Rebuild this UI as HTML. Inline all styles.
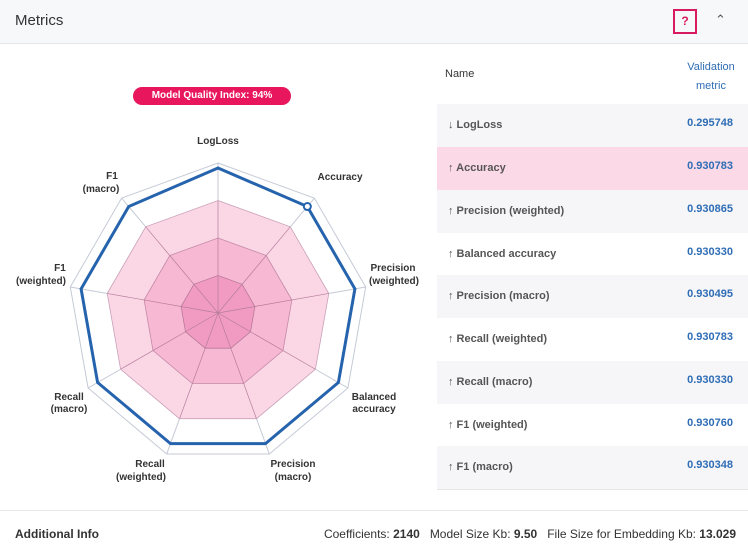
<!DOCTYPE html>
<html><head><style>
body{margin:0;width:748px;height:557px;overflow:hidden;background:#fff;font-family:"Liberation Sans",sans-serif;position:relative}
.hdr{position:absolute;left:0;top:0;width:748px;height:43px;background:#f7f8fa;border-bottom:1px solid #e4e6ea}
.hdr .t{position:absolute;left:15px;top:12px;font-size:15px;color:#333}
.q{position:absolute;left:673px;top:9px;width:20px;height:21px;border:2px solid #d81b60;color:#d81b60;font-weight:bold;font-size:12px;text-align:center;line-height:21px}
.car{position:absolute;left:715px;top:12px;font-size:13px;color:#555}
.badge{position:absolute;left:133px;top:87px;width:158px;height:18px;border-radius:9px;background:#e8175d;color:#fff;font-weight:bold;font-size:10px;text-align:center;line-height:18px}
.th{position:absolute;font-size:11px;color:#333}
.row{position:absolute;left:437px;width:311px;height:43px;font-size:11px;font-weight:bold}
.row .n{position:absolute;left:11px;top:15px;color:#555}
.row .v{position:absolute;right:15px;top:13px;color:#2f6db5}
.foot{position:absolute;left:0;top:510px;width:748px;border-top:1px solid #e8e8e8}
</style></head><body>
<div class="hdr"><div class="t">Metrics</div><div class="q">?</div><div class="car">&#8963;</div></div>
<div class="badge">Model Quality Index: 94%</div>
<svg width="748" height="557" style="position:absolute;left:0;top:0" id="s">
<g id="g"></g>
<g font-size="10" font-weight="bold" fill="#333" text-anchor="middle" font-family="Liberation Sans,sans-serif">
<text x="218" y="144">LogLoss</text>
<text x="340" y="180">Accuracy</text>
<text x="393" y="271">Precision</text><text x="394" y="284">(weighted)</text>
<text x="374" y="400">Balanced</text><text x="374" y="412">accuracy</text>
<text x="293" y="467">Precision</text><text x="293" y="480">(macro)</text>
<text x="150" y="467">Recall</text><text x="141" y="480">(weighted)</text>
<text x="69" y="400">Recall</text><text x="69" y="412">(macro)</text>
<text x="60" y="271">F1</text><text x="41" y="284">(weighted)</text>
<text x="112" y="179">F1</text><text x="101" y="192">(macro)</text>
</g>
</svg>
<script>
var cx=218,cy=313,g=document.getElementById('g'),h='';
function pt(i,r){var a=-Math.PI/2+i*2*Math.PI/9;return [cx+r*Math.cos(a),cy+r*Math.sin(a)];}
function poly(rs){var p=[];for(var i=0;i<9;i++){var q=pt(i,typeof rs=='number'?rs:rs[i]);p.push(q[0].toFixed(1)+','+q[1].toFixed(1));}return p.join(' ');}
h+='<polygon points="'+poly(150)+'" fill="#fff" stroke="#c5cad6" stroke-width="1"/>';
h+='<polygon points="'+poly(112.5)+'" fill="#fbd7e6" stroke="#c9a0b8" stroke-width="0.8"/>';
h+='<polygon points="'+poly(75)+'" fill="#f7b8d3" stroke="#c48aa8" stroke-width="0.8"/>';
h+='<polygon points="'+poly(37.5)+'" fill="#f29bc2" stroke="#b87a9a" stroke-width="0.8"/>';
for(var i=0;i<9;i++){var q=pt(i,150),r=pt(i,112.5);h+='<line x1="'+cx+'" y1="'+cy+'" x2="'+r[0]+'" y2="'+r[1]+'" stroke="#b47d9b" stroke-width="0.7"/><line x1="'+r[0]+'" y1="'+r[1]+'" x2="'+q[0]+'" y2="'+q[1]+'" stroke="#c5cad6" stroke-width="1"/>';}
var rs=[145,139,139,139,139,139,139,139,139];
h+='<polygon points="'+poly(rs)+'" fill="none" stroke="#2563ad" stroke-width="3"/>';
var a=pt(1,139);h+='<circle cx="'+a[0]+'" cy="'+a[1]+'" r="3.5" fill="#fff" stroke="#2563ad" stroke-width="2"/>';
g.innerHTML=h;
</script>
<div class="th" style="left:445px;top:68px">Name</div>
<div class="th" style="left:680px;top:58px;color:#2f6db5;text-align:center;line-height:19px;width:62px">Validation<br>metric</div>
<div class="row" style="top:104px;background:#f6f6f8"><span class="n">&#8595; LogLoss</span><span class="v">0.295748</span></div>
<div class="row" style="top:147px;background:#fcd9e6"><span class="n">&#8593; Accuracy</span><span class="v">0.930783</span></div>
<div class="row" style="top:190px;background:#f6f6f8"><span class="n">&#8593; Precision (weighted)</span><span class="v">0.930865</span></div>
<div class="row" style="top:233px"><span class="n">&#8593; Balanced accuracy</span><span class="v">0.930330</span></div>
<div class="row" style="top:275px;background:#f6f6f8"><span class="n">&#8593; Precision (macro)</span><span class="v">0.930495</span></div>
<div class="row" style="top:318px"><span class="n">&#8593; Recall (weighted)</span><span class="v">0.930783</span></div>
<div class="row" style="top:361px;background:#f6f6f8"><span class="n">&#8593; Recall (macro)</span><span class="v">0.930330</span></div>
<div class="row" style="top:404px"><span class="n">&#8593; F1 (weighted)</span><span class="v">0.930760</span></div>
<div class="row" style="top:446px;background:#f6f6f8;border-bottom:1px solid #e6e6e6"><span class="n">&#8593; F1 (macro)</span><span class="v">0.930348</span></div>
<div class="foot"></div>
<div style="position:absolute;left:15px;top:527px;font-size:12px;font-weight:bold;color:#333">Additional Info</div>
<div style="position:absolute;right:12px;top:527px;font-size:12px;color:#333;white-space:nowrap">Coefficients: <b>2140</b> &nbsp;&nbsp;Model Size Kb: <b>9.50</b> &nbsp;&nbsp;File Size for Embedding Kb: <b>13.029</b></div>
</body></html>
